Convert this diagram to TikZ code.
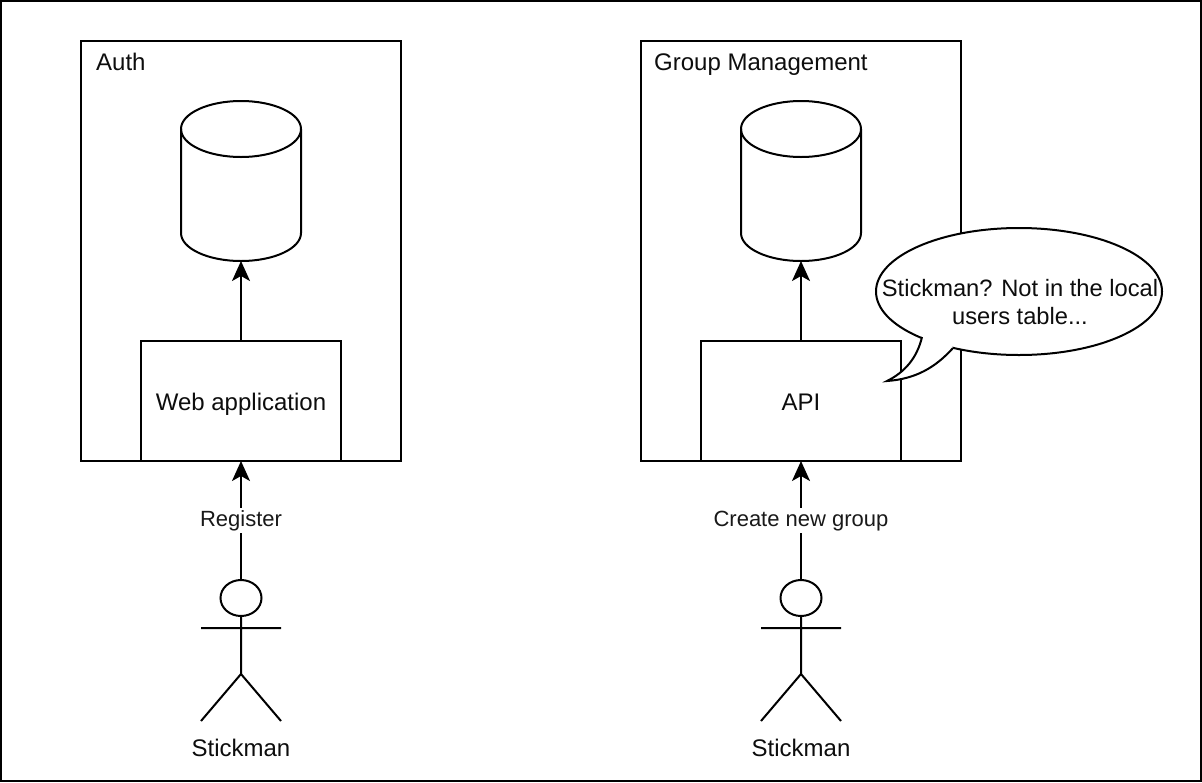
\documentclass[tikz,border=0pt]{standalone}
\usepackage{fontspec}
\setmainfont{Liberation Sans}
\usetikzlibrary{shapes.geometric,arrows.meta}
\tikzset{
  ln/.style={line width=2pt,draw=black},
  boxnode/.style={ln,rectangle,minimum width=#1,inner sep=0pt,outer sep=0pt,align=center,anchor=north west},
  big/.style={font=\fontsize{24}{28}\selectfont,text=black!95},
  small/.style={font=\fontsize{22}{26}\selectfont,text=black!90},
  conn/.style={ln,-{Stealth[length=20pt,width=18pt,inset=5pt]}},
  lab/.style={small,fill=white,inner sep=2pt,text height=16pt,text depth=5pt},
  head/.style={ln,ellipse,minimum width=41pt,minimum height=36pt,inner sep=0pt,outer sep=0pt},
}
\newcommand{\dbcyl}[2]{%
  \begin{scope}[shift={(#2,0)}]
    \node[minimum width=120pt,minimum height=160pt,inner sep=0pt,outer sep=0pt] (#1) at (0,181) {};
    \draw[ln] (-60,129) .. controls (-60,113.5) and (-33,101) .. (0,101)
      .. controls (33,101) and (60,113.5) .. (60,129)
      -- (60,233) .. controls (60,248.5) and (33,261) .. (0,261)
      .. controls (-33,261) and (-60,248.5) .. (-60,233) -- cycle;
    \draw[ln] (-60,129) .. controls (-60,144.5) and (-33,157) .. (0,157)
      .. controls (33,157) and (60,144.5) .. (60,129);
  \end{scope}}
\newcommand{\actor}[2]{%
  \begin{scope}[shift={(#2,0)}]
    \node[head] (#1) at (0,598) {};
    \draw[ln] (#1.south) -- (0,674) (-40,628) -- (40,628) (-40,721) -- (0,674) -- (40,721);
    \node[big,anchor=base,inner sep=0pt] (#1t) at (0,756) {Stickman};
  \end{scope}}
\begin{document}
\begin{tikzpicture}[x=1pt,y=-1pt]
  \useasboundingbox (0,0) rectangle (1202,782);
  \node[boxnode=1200pt,minimum height=780pt] (frame) at (1,1) {};

  \node[boxnode=320pt,minimum height=420pt] (auth) at (81,41) {};
  \node[boxnode=320pt,minimum height=420pt] (group) at (641,41) {};
  \node[big,anchor=base west,inner sep=0pt] (autht) at (96,70) {Auth};
  \node[big,anchor=base west,inner sep=0pt] (groupt) at (654,70) {Group Management};

  \dbcyl{dba}{241}
  \dbcyl{dbg}{801}

  \node[boxnode=200pt,minimum height=120pt,big,text height=20pt,text depth=2pt] (web) at (141,341) {Web application};
  \node[boxnode=200pt,minimum height=120pt,big,text height=20pt,text depth=2pt] (api) at (701,341) {API};

  \actor{sa}{241}
  \actor{sg}{801}

  \draw[conn] (web.north) -- (dba.south);
  \draw[conn] (api.north) -- (dbg.south);
  \draw[conn] (sa.north) -- node[lab,pos=.5] (rl) {Register} (web.south);
  \draw[conn] (sg.north) -- node[lab,pos=.5] (cl) {Create new group} (api.south);

  % speech bubble
  \node[ln,ellipse,fill=white,minimum width=286pt,minimum height=127pt,inner sep=0pt,outer sep=0pt] (bubble) at (1019,291.5) {};
  \coordinate (ta) at (922,337);
  \coordinate (tip) at (887,381);
  \coordinate (tb) at (953,348);
  \fill[white] (ta) .. controls (917,358) and (905,372) .. (tip)
     .. controls (915,379) and (935,368) .. (tb) -- (945,332) -- cycle;
  \draw[ln] (ta) .. controls (917,358) and (905,372) .. (tip)
     .. controls (915,379) and (935,368) .. (tb);
  \node[align=center,inner sep=0pt,font=\fontsize{23.7}{28}\selectfont,text=black!95] (bubblet) at (1020,302) {Stickman? Not in the local\\users table...};
\end{tikzpicture}
\end{document}
